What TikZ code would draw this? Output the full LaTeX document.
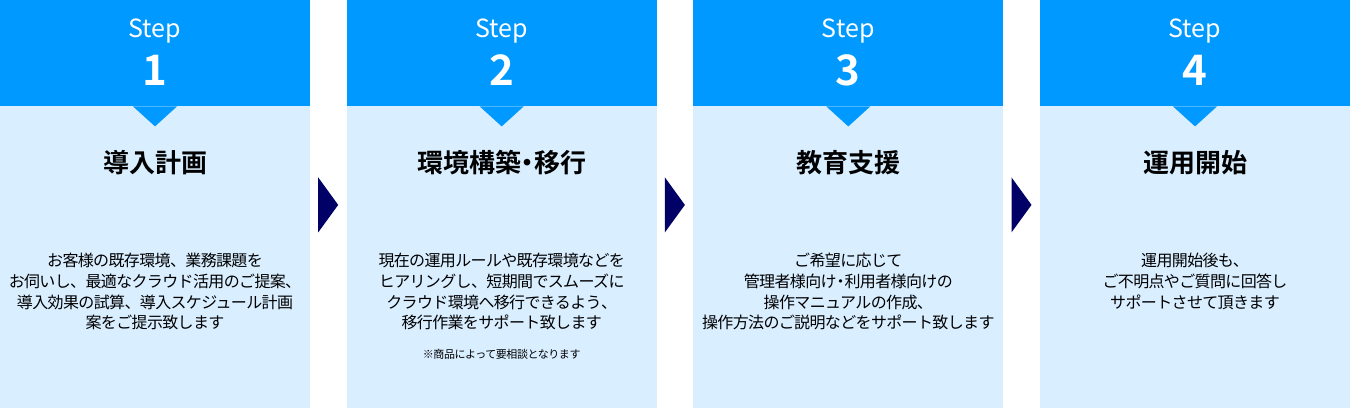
\documentclass[tikz,border=0pt]{standalone}
\usepackage{fontspec}
\setmainfont{Noto Sans CJK JP}[BoldFont={Noto Sans CJK JP Bold}]
\newfontfamily\descfont{Noto Sans CJK JP}[LetterSpace=-4]
\usetikzlibrary{positioning, calc}

\definecolor{stepblue}{HTML}{0099FF}
\definecolor{panelblue}{HTML}{D9EEFF}
\definecolor{arrownavy}{HTML}{000066}

% narrow middle dot, as in the titles
\newcommand\halfdot{\kern-0.25em・\kern-0.25em}

\begin{document}
\begin{tikzpicture}[
    x=1pt, y=-1pt,
        header/.style = {fill=stepblue, minimum width=310pt, minimum height=106pt,
                         inner sep=0pt, anchor=north},
        panel/.style = {fill=panelblue, minimum width=310pt, minimum height=302pt,
                        inner sep=0pt, anchor=north},
        steplabel/.style = {text=white, anchor=base, inner sep=0pt,
                            font=\fontsize{25}{30}\selectfont},
        stepnum/.style = {text=white, anchor=base, inner sep=0pt,
                          font=\fontsize{42}{50}\selectfont\bfseries},
        title/.style = {text=black, inner sep=0pt,
                        font=\fontsize{26}{30}\selectfont\bfseries},
        desc/.style = {text=black, anchor=north, align=center, inner sep=0pt,
                       font=\descfont\fontsize{16}{20.7}\selectfont},
        note/.style = {text=black, inner sep=0pt,
                       font=\descfont\fontsize{11}{13}\selectfont},
        pointer/.style = {fill=stepblue},
        chevron/.style = {fill=arrownavy}
        ]

    \useasboundingbox (0,0) rectangle (1350,408);

    % Panels and headers
    \node[panel]  (p1) at (155,106)    {};
    \node[panel]  (p2) at (501.7,106)  {};
    \node[panel]  (p3) at (848.3,106)  {};
    \node[panel]  (p4) at (1195,106)   {};
    \node[header] (h1) at (155,0)      {};
    \node[header] (h2) at (501.7,0)    {};
    \node[header] (h3) at (848.3,0)    {};
    \node[header] (h4) at (1195,0)     {};

    % small triangles under each header
    \fill[pointer] ([xshift=-22pt]h1.south) -- ([xshift=22pt]h1.south) -- ([yshift=-20pt]h1.south) -- cycle;
    \fill[pointer] ([xshift=-22pt]h2.south) -- ([xshift=22pt]h2.south) -- ([yshift=-20pt]h2.south) -- cycle;
    \fill[pointer] ([xshift=-22pt]h3.south) -- ([xshift=22pt]h3.south) -- ([yshift=-20pt]h3.south) -- cycle;
    \fill[pointer] ([xshift=-22pt]h4.south) -- ([xshift=22pt]h4.south) -- ([yshift=-20pt]h4.south) -- cycle;

    % Step numbers
    \node[steplabel] (s1) at (155,37)    {Step};
    \node[stepnum]   (n1) at (155,85)    {1};
    \node[steplabel] (s2) at (501.7,37)  {Step};
    \node[stepnum]   (n2) at (501.7,85)  {2};
    \node[steplabel] (s3) at (848.3,37)  {Step};
    \node[stepnum]   (n3) at (848.3,85)  {3};
    \node[steplabel] (s4) at (1195,37)   {Step};
    \node[stepnum]   (n4) at (1195,85)   {4};

    % Titles
    \node[title] (t1) at (155,163)   {導入計画};
    \node[title] (t2) at (501.7,163) {環境構築\halfdot 移行};
    \node[title] (t3) at (848.3,163) {教育支援};
    \node[title] (t4) at (1195,163)  {運用開始};

    % Descriptions
    \node[desc] (d1) at (155,253) {お客様の既存環境、業務課題を\\お伺いし、最適なクラウド活用のご提案、\\導入効果の試算、導入スケジュール計画\\案をご提示致します};
    \node[desc] (d2) at (501.7,253) {現在の運用ルールや既存環境などを\\ヒアリングし、短期間でスムーズに\\クラウド環境へ移行できるよう、\\移行作業をサポート致します};
    \node[note] (m2) at (501.7,354) {※商品によって要相談となります};
    \node[desc] (d3) at (848.3,253) {ご希望に応じて\\管理者様向け\halfdot 利用者様向けの\\操作マニュアルの作成、\\操作方法のご説明などをサポート致します};
    \node[desc] (d4) at (1195,253) {運用開始後も、\\ご不明点やご質問に回答し\\サポートさせて頂きます};

    % Arrows between the steps
    \fill[chevron] ([xshift=8pt,yshift=-71pt]h1.south east) -- ++(20,27.5) -- ++(-20,27.5) -- cycle;
    \fill[chevron] ([xshift=8pt,yshift=-71pt]h2.south east) -- ++(20,27.5) -- ++(-20,27.5) -- cycle;
    \fill[chevron] ([xshift=8pt,yshift=-71pt]h3.south east) -- ++(20,27.5) -- ++(-20,27.5) -- cycle;

\end{tikzpicture}
\end{document}
